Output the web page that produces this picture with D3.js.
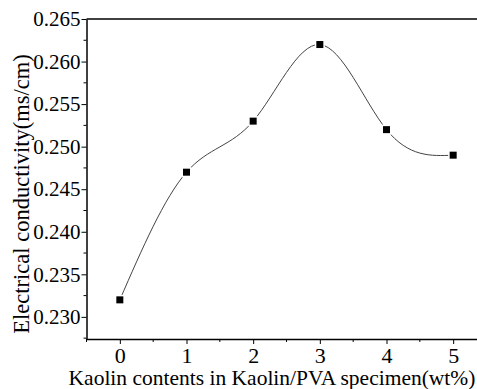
<!DOCTYPE html>
<html>
<head>
<meta charset="utf-8">
<script src="https://cdn.jsdelivr.net/npm/d3@7/dist/d3.min.js"></script>
<style>
  body { margin: 0; background: #fff; }
</style>
</head>
<body>
<div id="chart"></div>
<script>
// kaolin content (wt%) and measured conductivity
const kaolin = [0, 1, 2, 3, 4, 5];
const conductivity = [0.232, 0.247, 0.253, 0.262, 0.252, 0.249];
const yTicks = [0.230, 0.235, 0.240, 0.245, 0.250, 0.255, 0.260, 0.265];
const xTicks = [0, 1, 2, 3, 4, 5];

const FONT = "'Liberation Serif', 'Times New Roman', Times, serif";
const w = 477, h = 389;
const svg = d3.select("#chart").append("svg")
  .attr("width", w)
  .attr("height", h)
  .style("font-family", FONT);

// scales
const x = d3.scaleLinear().domain([-0.5, 5.5]).range([86.5, 486.5]);
const y = d3.scaleLinear().domain([0.2274, 0.265]).range([339, 19]);

const data = kaolin.map((k, i) => ({ x: k, y: conductivity[i] }));

// spline through the points
const line = d3.line()
  .x(d => x(d.x))
  .y(d => y(d.y))
  .curve(d3.curveNatural);

svg.append("path")
  .datum(data)
  .attr("d", line)
  .attr("fill", "none")
  .attr("stroke", "#444")
  .attr("stroke-width", 1);

// square markers with a white halo so the line stops short of them
svg.selectAll("rect.pt")
  .data(data)
  .join("rect")
  .attr("class", "pt")
  .attr("x", d => x(d.x) - 3.5)
  .attr("y", d => y(d.y) - 3.5)
  .attr("width", 7)
  .attr("height", 7)
  .attr("fill", "#000")
  .attr("stroke", "#fff")
  .attr("stroke-width", 3)
  .attr("paint-order", "stroke");

// axes
const yMinor = d3.range(0.2275, 0.265, 0.005);
const xMinor = [-0.5, 0.5, 1.5, 2.5, 3.5, 4.5, 5.5];

const yAxis = svg.append("g")
  .attr("transform", `translate(${x(-0.5)},0)`)
  .call(d3.axisLeft(y).tickValues(yTicks).tickFormat(d3.format(".3f")).tickSize(5).tickPadding(1).tickSizeOuter(0));
yAxis.attr("font-family", FONT);
yAxis.select(".domain").attr("stroke-width", 1.5);
yAxis.selectAll("text").style("font-size", "21px").style("font-family", FONT);

svg.append("g")
  .attr("transform", `translate(${x(-0.5)},0)`)
  .selectAll("line")
  .data(yMinor)
  .join("line")
  .attr("x1", -3).attr("x2", 0)
  .attr("y1", d => y(d)).attr("y2", d => y(d))
  .attr("stroke", "#000");

const xAxis = svg.append("g")
  .attr("transform", `translate(0,${y(0.2274)})`)
  .call(d3.axisBottom(x).tickValues(xTicks).tickFormat(d3.format("d")).tickSize(5).tickPadding(3).tickSizeOuter(0));
xAxis.attr("font-family", FONT);
xAxis.select(".domain").attr("stroke-width", 1.5);
xAxis.selectAll("text").style("font-size", "22px").style("font-family", FONT);

svg.append("g")
  .attr("transform", `translate(0,${y(0.2274)})`)
  .selectAll("line")
  .data(xMinor)
  .join("line")
  .attr("x1", d => x(d)).attr("x2", d => x(d))
  .attr("y1", 0).attr("y2", 3)
  .attr("stroke", "#000");

// top frame line
svg.append("line")
  .attr("x1", x(-0.5)).attr("x2", w)
  .attr("y1", y(0.265)).attr("y2", y(0.265))
  .attr("stroke", "#000")
  .attr("stroke-width", 1.5);

// axis titles
svg.append("text")
  .attr("x", 272)
  .attr("y", 385)
  .attr("text-anchor", "middle")
  .style("font-size", "21.5px")
  .style("font-family", FONT)
  .text("Kaolin contents in Kaolin/PVA specimen(wt%)");

svg.append("text")
  .attr("transform", "translate(29,194) rotate(-90)")
  .attr("text-anchor", "middle")
  .style("font-size", "22.5px")
  .style("font-family", FONT)
  .text("Electrical conductivity(ms/cm)");
</script>
</body>
</html>
